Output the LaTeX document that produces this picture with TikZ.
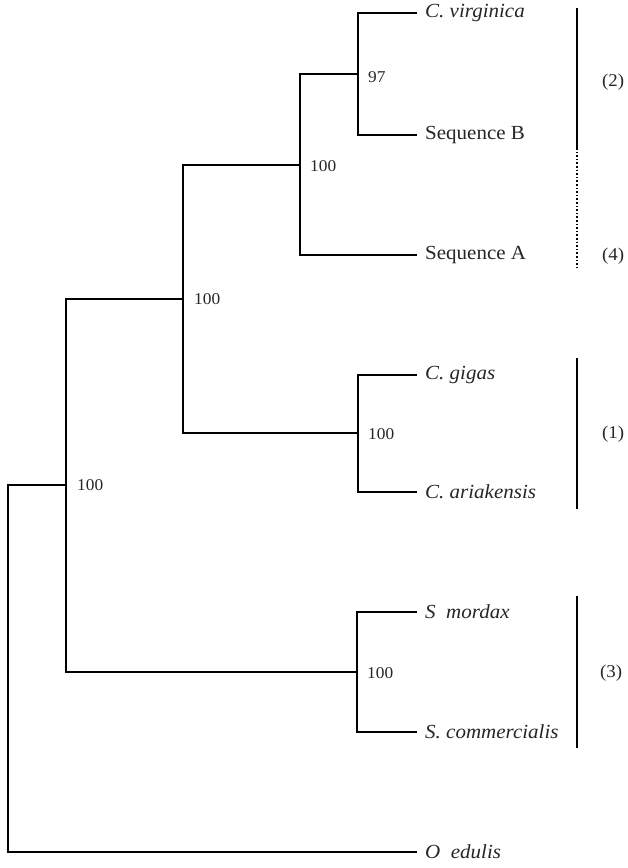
\documentclass[tikz,border=0pt]{standalone}
\usepackage{fontspec}
\setmainfont[FakeStretch=1.05]{Liberation Serif}
\begin{document}
\begin{tikzpicture}[x=1pt,y=-1pt,
  branch/.style={line width=1.8pt, line cap=rect},
  bar/.style={line width=1.6pt},
  dotbar/.style={line width=1.6pt, dotted},
  leaf/.style={anchor=west, inner sep=0pt, font=\fontsize{20}{22}\selectfont, text=black!85},
  sup/.style={anchor=west, inner sep=0pt, font=\fontsize{16.5}{18}\selectfont, text=black!85},
  grp/.style={anchor=west, inner sep=0pt, font=\fontsize{18}{20}\selectfont, text=black!85}]
\useasboundingbox (0,0) rectangle (627,868);
% leaf ends
\coordinate (cvE) at (416,13);
\coordinate (sbE) at (416,135);
\coordinate (saE) at (416,255);
\coordinate (cgE) at (416,375);
\coordinate (caE) at (416,492);
\coordinate (smE) at (416,612);
\coordinate (scE) at (416,732);
\coordinate (oeE) at (416,852);
% leaf labels
\node[leaf] (cv) at (425,13) {\itshape C. virginica};
\node[leaf] (sb) at (425,135) {Sequence B};
\node[leaf] (sa) at (425,255) {Sequence A};
\node[leaf] (cg) at (425,375) {\itshape C. gigas};
\node[leaf] (ca) at (425,492) {\itshape C. ariakensis};
\node[leaf] (sm) at (425,612) {\itshape S\ \ mordax};
\node[leaf] (sc) at (425,732) {\itshape S. commercialis};
\node[leaf] (oe) at (425,852) {\itshape O\ \ edulis};
% internal nodes
\coordinate (n97) at (358,74);
\coordinate (nA) at (300,165);
\coordinate (nG) at (358,433);
\coordinate (nB) at (183,299);
\coordinate (nS) at (357,672);
\coordinate (nC) at (66,485);
\coordinate (root) at (8,668);
% branches
\draw[branch] (n97) |- (cvE);
\draw[branch] (n97) |- (sbE);
\draw[branch] (nA) |- (n97);
\draw[branch] (nA) |- (saE);
\draw[branch] (nG) |- (cgE);
\draw[branch] (nG) |- (caE);
\draw[branch] (nB) |- (nA);
\draw[branch] (nB) |- (nG);
\draw[branch] (nS) |- (smE);
\draw[branch] (nS) |- (scE);
\draw[branch] (nC) |- (nB);
\draw[branch] (nC) |- (nS);
\draw[branch] (root) |- (nC);
\draw[branch] (root) |- (oeE);
% support values
\node[sup] (l97) at (368,77) {97};
\node[sup] (lA) at (310,166) {100};
\node[sup] (lB) at (194,299) {100};
\node[sup] (lG) at (368,434) {100};
\node[sup] (lC) at (77,485) {100};
\node[sup] (lS) at (367,673) {100};
% group bars
\coordinate (b2t) at (577,8);
\coordinate (b2m) at (577,148);
\coordinate (b4b) at (577,268);
\coordinate (b1t) at (577,358);
\coordinate (b1b) at (577,509);
\coordinate (b3t) at (577,596);
\coordinate (b3b) at (577,748);
\draw[bar] (b2t) -- (b2m);
\draw[dotbar] (b2m) -- (b4b);
\draw[bar] (b1t) -- (b1b);
\draw[bar] (b3t) -- (b3b);
\node[grp] (g2) at (602,82) {(2)};
\node[grp] (g4) at (602,256) {(4)};
\node[grp] (g1) at (602,434) {(1)};
\node[grp] (g3) at (600,673) {(3)};
\end{tikzpicture}
\end{document}
